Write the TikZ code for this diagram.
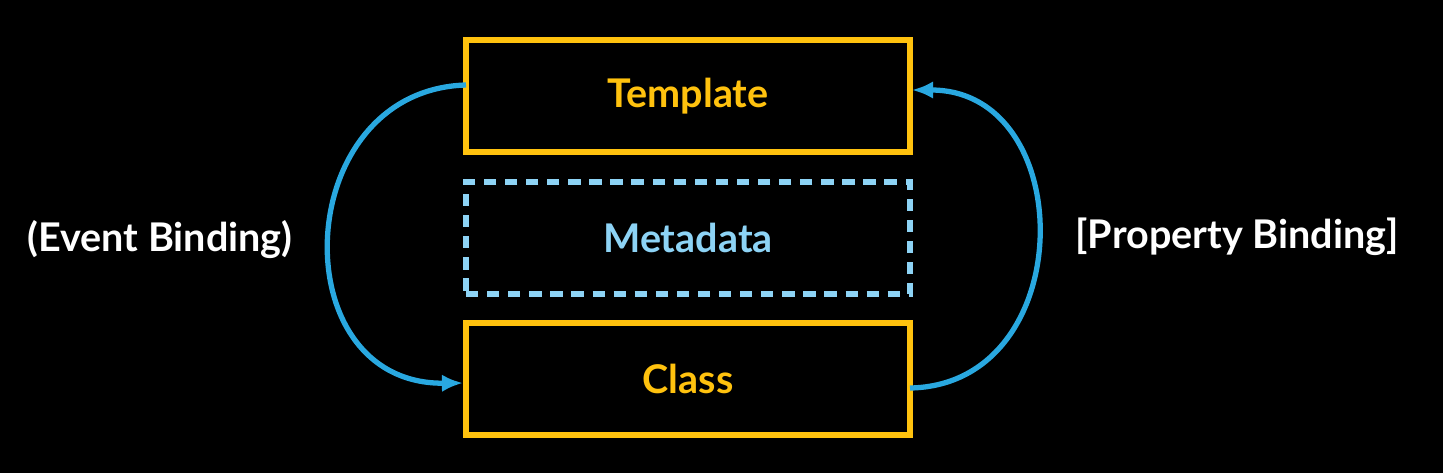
\documentclass[tikz,border=0pt]{standalone}
\usepackage{fontspec}
\setmainfont{Lato}
\usetikzlibrary{arrows.meta}
\begin{document}
\definecolor{gold}{HTML}{FFC20E}
\definecolor{lb}{HTML}{8DD3F5}
\definecolor{ab}{HTML}{29A8E0}
\begin{tikzpicture}[x=0.02cm,y=-0.02cm,
 box/.style={draw=gold,line width=3.5pt,minimum width=444*0.02cm,minimum height=112*0.02cm,inner sep=0pt,text=gold,font=\fontsize{22.5}{26}\selectfont\bfseries},
 arr/.style={draw=ab,line width=3pt,-{Latex[length=12pt,width=10pt]}},
 lab/.style={text=white,font=\fontsize{22.5}{26}\selectfont\bfseries}]
\fill[black] (0,0) rectangle (1443,473);
\node[box] (t) at (688,96) {Template};
\node[box,draw=lb,dashed,dash pattern=on 7pt off 5pt,text=lb] (m) at (688,238) {Metadata};
\node[box] (c) at (688,379) {Class};
\coordinate (ls) at (466,85); \coordinate (le) at (463,383);
\coordinate (rs) at (910,388); \coordinate (re) at (912,90);
\draw[arr] (ls) .. controls (290,90) and (280,385) .. (le);
\draw[arr] (rs) .. controls (1080,385) and (1080,90) .. (re);
\node[lab] (eb) at (160,240) {(Event Binding)};
\node[lab] (pb) at (1237,237) {[Property Binding]};
\end{tikzpicture}
\end{document}
